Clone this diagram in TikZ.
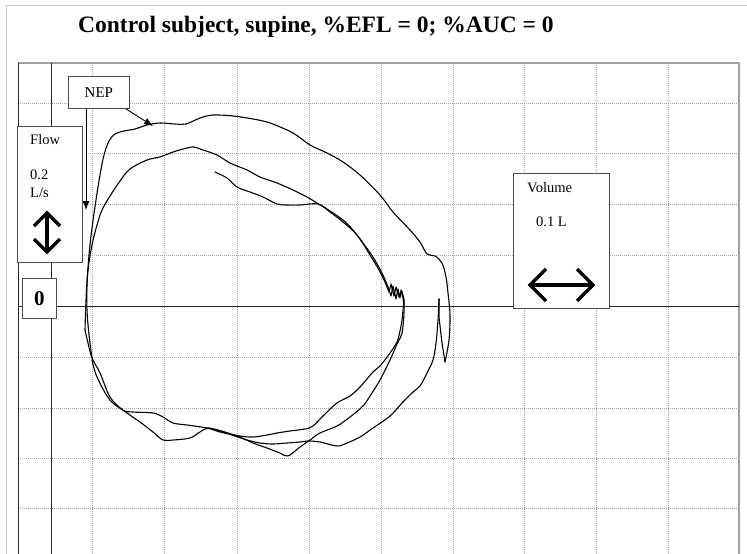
\documentclass[tikz,border=0pt]{standalone}
\usepackage{fontspec}
\setmainfont{Liberation Serif}
\usetikzlibrary{arrows.meta,calc}
\begin{document}
\begin{tikzpicture}[x=1pt,y=-1pt,
  gridline/.style={gray!70, line width=0.6pt, dash pattern=on 1.2pt off 0.8pt},
  outerframe/.style={gray!45, line width=1pt},
  plotframe/.style={gray!75, line width=1.6pt},
  axisline/.style={black!85, line width=1pt},
  trace/.style={black, line width=1.1pt, line join=round, line cap=round},
  box/.style={draw=black!70, fill=white, line width=0.8pt, inner sep=0pt, anchor=north west},
  lbl/.style={inner sep=0pt, anchor=west, font=\fontsize{14.5}{16}\selectfont},
  bigarrow/.style={line width=3.4pt, miter limit=10},
  neparrow/.style={black, line width=0.9pt, -{Latex[length=9pt,width=7pt]}}
]
\useasboundingbox (0,0) rectangle (747,554);
% outer title frame
\draw[outerframe] (6,554) -- (6,5) -- (747,5);
% grid
\foreach \gx in {92,164,237,309,381,453,524,596,668}
  \draw[gridline] (\gx,63) -- (\gx,554);
\foreach \gy in {103,153,204,255,357,408,458,508}
  \draw[gridline] (18,\gy) -- (739,\gy);
% plot frame
\draw[plotframe] (18,63) -- (739,63) -- (739,554);
\draw[axisline] (18,63) -- (18,554);
\draw[axisline] (51,63) -- (51,554);
\draw[axisline] (18,306) -- (739,306);

% traces
% outer loop: top
\draw[trace] plot[smooth, tension=0.55] coordinates {(92,358) (89,335) (87,310) (87,285) (89,255) (92,228) (96,200) (100,175) (104,155) (109,141) (115,134) (124,131) (135,129) (147,125) (160,123) (175,124) (186,124) (200,118) (213,115) (233,116) (253,119) (270,123) (293,133) (310,145) (327,153) (343,162) (360,175) (380,195) (393,212) (410,230) (420,242) (427,254) (435,256) (442,263) (446,277) (448,293) (450,315) (449,340) (445,362)};
\draw[trace] (445,362) -- (442,343) -- (439,317) -- (439,299);
\draw[trace] plot[smooth, tension=0.55] coordinates {(439,299) (438,320) (436,343) (433,360) (427,373) (420,386) (413,392) (403,402) (390,416) (373,428) (360,437) (347,443) (337,446) (320,442) (308,441) (300,442) (287,443) (273,444) (260,443) (247,440) (235,436) (220,431) (208,428) (200,432) (190,438) (173,440) (163,440) (153,432) (140,422) (127,413) (110,400) (97,377) (92,360)};
% inner loop: top
\draw[trace] plot[smooth, tension=0.55] coordinates {(85,330) (86,300) (88,270) (92,245) (97,225) (102,210) (110,196) (120,181) (130,169) (147,160) (160,157) (173,152) (187,148) (194,147) (203,150) (217,155) (230,163) (247,170) (260,177) (277,183) (293,190) (307,197) (317,203) (327,209) (343,220) (353,230) (363,243) (373,257) (382,273) (388,287)};
\draw[trace] (388,287) -- (391,296) -- (393,286) -- (396,299) -- (398,289) -- (400,298) -- (401,290) -- (403,298) -- (404,305);
% free segment
\draw[trace] plot[smooth, tension=0.55] coordinates {(215,172) (227,178) (237,187) (250,192) (263,197) (277,204) (287,205) (300,205) (318,204) (330,212) (343,222) (357,235) (370,255) (379,270) (385,282)};
\draw[trace] (385,282) -- (389,292) -- (391,284) -- (394,296) -- (396,287) -- (399,297) -- (402,291) -- (404,300);
% lower inner curve
\draw[trace] plot[smooth, tension=0.55] coordinates {(404,300) (403,310) (402,320) (400,331) (397,342) (390,353) (380,366) (373,372) (360,387) (350,396) (337,403) (323,416) (313,426) (305,429) (290,431) (277,433) (267,435) (253,437) (240,436) (220,432) (207,428) (187,425) (173,423) (163,417) (153,413) (133,412) (123,410) (110,397) (100,373) (92,358) (88,343) (85,330)};
% lower middle curve
\draw[trace] plot[smooth, tension=0.55] coordinates {(404,300) (404,313) (402,333) (397,344) (390,360) (380,380) (370,396) (363,406) (350,417) (337,426) (320,433) (310,440) (300,447) (288,456) (280,453) (267,448) (253,443) (240,437) (228,433) (218,430) (208,428)};

% title
\node[inner sep=0pt, anchor=west, font=\fontsize{23.5}{28}\selectfont\bfseries] (title) at (78,27) {Control subject, supine, \%EFL = 0; \%AUC = 0};

% flow box
\node[box, minimum width=65pt, minimum height=136pt] (flowbox) at (17,126) {};
\node[lbl] (flowlbl) at (30,140) {Flow};
\node[lbl] (flowval) at (30,175) {0.2};
\node[lbl] (flowunit) at (30,193) {L/s};
\draw[bigarrow] (47,214) -- (47,251);
\draw[bigarrow] (34,226) -- (47,213) -- (60,226);
\draw[bigarrow] (34,239) -- (47,252) -- (60,239);

% zero box
\node[box, minimum width=34pt, minimum height=40pt, font=\fontsize{21}{24}\selectfont\bfseries] (zero) at (22,278) {0};

% volume box
\node[box, minimum width=96pt, minimum height=135pt] (volbox) at (513,173) {};
\node[lbl] (vollbl) at (527,188) {Volume};
\node[lbl] (volval) at (536,222) {0.1 L};
\draw[bigarrow] (531,285) -- (592,285);
\draw[bigarrow] (546,269) -- (530,285) -- (546,301);
\draw[bigarrow] (577,269) -- (593,285) -- (577,301);

% NEP box and arrows
\node[box, minimum width=61pt, minimum height=32pt, font=\fontsize{15}{17}\selectfont] (nep) at (68,76) {NEP};
\coordinate (tipA) at (86,210);
\coordinate (tipB) at (153,126);
\draw[neparrow] (nep.south -| tipA) -- (tipA);
\draw[neparrow] ($(nep.south east)+(-4,0)$) -- (tipB);
\end{tikzpicture}
\end{document}
